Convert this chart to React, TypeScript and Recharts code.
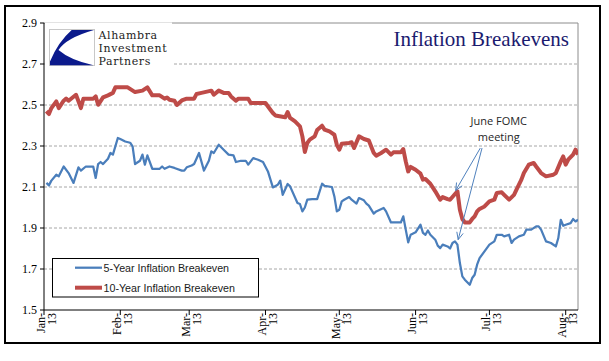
import React from "react";
import { LineChart, Line, XAxis, YAxis, ReferenceLine, ReferenceDot } from "recharts";

// x = day offset from Jan 1 2013, y = breakeven rate in %
const tenYrDays = [
  1, 2, 3, 5, 6, 8, 9, 10, 13, 14, 15, 16, 20, 21, 22, 24, 26, 28, 29, 34,
  37, 40, 42, 44, 47, 49, 50, 51, 53, 54, 56, 58, 61, 62, 64, 68, 69, 71, 73, 75,
  76, 78, 79, 83, 84, 90, 92, 93, 94, 98, 99, 100, 102, 104, 105, 106, 107, 108, 110, 111,
  113, 114, 116, 118, 119, 120, 121, 124, 125, 126, 128, 130, 132, 134, 135, 137, 139, 141, 142, 145,
  146, 147, 148, 149, 151, 153, 154, 155, 157, 159, 161, 162, 164, 165, 168, 169, 170, 171, 173, 174,
  175, 176, 177, 179, 181, 183, 184, 186, 187, 189, 191, 192, 194, 195, 197, 199, 200, 202, 204, 207,
  208, 210, 211, 212, 213, 215, 216, 217,
];
const tenYrVals = [
  2.47, 2.456, 2.485, 2.518, 2.485, 2.521, 2.531, 2.521, 2.55, 2.518, 2.485, 2.531, 2.531, 2.542, 2.501, 2.537, 2.547, 2.559, 2.586, 2.586,
  2.563, 2.57, 2.586, 2.547, 2.547, 2.531, 2.537, 2.526, 2.521, 2.5, 2.522, 2.531, 2.531, 2.554, 2.559, 2.57, 2.55, 2.57, 2.559, 2.559,
  2.542, 2.521, 2.531, 2.531, 2.51, 2.51, 2.477, 2.461, 2.449, 2.44, 2.466, 2.437, 2.42, 2.396, 2.347, 2.271, 2.315, 2.331, 2.347, 2.378,
  2.399, 2.38, 2.371, 2.355, 2.306, 2.282, 2.311, 2.315, 2.318, 2.29, 2.347, 2.334, 2.327, 2.266, 2.253, 2.266, 2.282, 2.258, 2.269, 2.269,
  2.285, 2.225, 2.176, 2.198, 2.184, 2.165, 2.136, 2.139, 2.116, 2.079, 2.038, 2.051, 2.041, 2.038, 2.079, 1.989, 1.944, 1.927, 1.927, 1.944,
  1.957, 1.981, 1.993, 2.005, 2.03, 2.038, 2.071, 2.074, 2.062, 2.038, 2.062, 2.087, 2.136, 2.168, 2.209, 2.217, 2.2, 2.168, 2.152, 2.16,
  2.168, 2.225, 2.249, 2.209, 2.233, 2.258, 2.282, 2.258,
];

const fiveYrDays = [
  1, 2, 3, 5, 6, 8, 10, 12, 14, 15, 17, 20, 21, 22, 23, 24, 26, 27, 28, 30,
  31, 33, 35, 36, 37, 39, 40, 41, 42, 44, 47, 48, 49, 51, 53, 56, 57, 58, 60, 61,
  63, 65, 67, 68, 69, 71, 73, 75, 77, 78, 80, 82, 83, 85, 87, 89, 91, 93, 95, 96,
  97, 99, 100, 103, 104, 105, 106, 107, 109, 111, 113, 114, 117, 118, 119, 120, 121, 122, 124, 125,
  127, 128, 130, 131, 132, 134, 135, 138, 139, 141, 145, 146, 147, 148, 149, 151, 153, 154, 155, 156,
  157, 159, 160, 161, 162, 164, 165, 166, 167, 168, 169, 170, 171, 173, 174, 175, 176, 177, 179, 181,
  183, 184, 186, 187, 189, 190, 191, 193, 195, 196, 198, 200, 201, 202, 204, 206, 208, 209, 210, 211,
  212, 214, 215, 216, 217,
];
const fiveYrVals = [
  2.12, 2.108, 2.131, 2.16, 2.152, 2.2, 2.168, 2.12, 2.196, 2.18, 2.2, 2.2, 2.144, 2.212, 2.222, 2.212, 2.238, 2.266, 2.258, 2.339,
  2.334, 2.322, 2.316, 2.298, 2.212, 2.228, 2.258, 2.209, 2.254, 2.189, 2.189, 2.2, 2.189, 2.2, 2.193, 2.18, 2.18, 2.196, 2.205, 2.212,
  2.266, 2.18, 2.228, 2.274, 2.266, 2.306, 2.282, 2.258, 2.254, 2.222, 2.228, 2.228, 2.209, 2.241, 2.233, 2.222, 2.176, 2.098, 2.111, 2.131,
  2.062, 2.115, 2.103, 2.022, 2.017, 1.981, 2.0, 2.038, 2.041, 2.041, 2.116, 2.106, 2.1, 2.054, 1.981, 1.989, 2.03, 2.038, 2.051, 2.038,
  2.019, 2.046, 2.035, 2.019, 2.009, 1.97, 1.981, 1.998, 1.981, 1.927, 1.927, 1.957, 1.892, 1.83, 1.867, 1.879, 1.916, 1.876, 1.867, 1.888,
  1.867, 1.843, 1.814, 1.802, 1.819, 1.81, 1.8, 1.827, 1.835, 1.819, 1.729, 1.664, 1.648, 1.623, 1.656, 1.672, 1.721, 1.753, 1.786, 1.819,
  1.835, 1.867, 1.867, 1.859, 1.867, 1.827, 1.843, 1.859, 1.867, 1.892, 1.892, 1.908, 1.908, 1.892, 1.835, 1.827, 1.81, 1.851, 1.94, 1.911,
  1.916, 1.924, 1.944, 1.932, 1.94,
];

const monthTicks = [0, 31, 59, 90, 120, 151, 181, 212];
const monthNames = ["Jan", "Feb", "Mar", "Apr", "May", "Jun", "Jul", "Aug"];
const yearLabel = "13";
const yTicks = [1.5, 1.7, 1.9, 2.1, 2.3, 2.5, 2.7, 2.9];
const gridVals = [1.7, 1.9, 2.1, 2.3, 2.5, 2.7];
const logoLines = ["Alhambra", "Investment", "Partners"];

// annotation anchor points, in data units
const fomcLabelAt = { d: 184.8, v: 2.382 };
const fomcArrows = [
  { from: { d: 177.3, v: 2.29 }, to: { d: 167.3, v: 2.083 } },
  { from: { d: 178.0, v: 2.29 }, to: { d: 168.3, v: 1.843 } },
];

const toPoints = (days: number[], vals: number[]) => days.map((d, i) => ({ d, v: vals[i] }));

const SERIES = [
  { key: "five", name: "5-Year Inflation Breakeven", color: "#4A7EBB", width: 2.25, data: toPoints(fiveYrDays, fiveYrVals) },
  { key: "ten", name: "10-Year Inflation Breakeven", color: "#BE4B48", width: 4, data: toPoints(tenYrDays, tenYrVals) },
];

const SERIF = '"Liberation Serif", "Times New Roman", serif';
const SANS = '"Liberation Sans", Arial, sans-serif';

function MonthTick(props: any) {
  const { x, y, payload } = props;
  const i = monthTicks.indexOf(payload.value);
  return (
    <g transform={`translate(${x},${y})`}>
      <text transform="rotate(-90)" textAnchor="end" fontFamily={SERIF} fontSize={12} fill="#000">
        <tspan x={2} y={0.5}>{monthNames[i]}-</tspan>
        <tspan x={2} y={11.5}>{yearLabel}</tspan>
      </text>
    </g>
  );
}

function Arrow(props: any) {
  const { x1, y1, x2, y2 } = props;
  const ang = Math.atan2(y2 - y1, x2 - x1);
  const len = 8;
  const a1 = ang + Math.PI - 0.42;
  const a2 = ang + Math.PI + 0.42;
  return (
    <g stroke="#4F81BD" strokeWidth={1} fill="none">
      <line x1={x1} y1={y1} x2={x2} y2={y2} />
      <polyline
        points={`${x2 + len * Math.cos(a1)},${y2 + len * Math.sin(a1)} ${x2},${y2} ${x2 + len * Math.cos(a2)},${y2 + len * Math.sin(a2)}`}
      />
    </g>
  );
}

function FomcLabel(props: any) {
  const { cx, cy } = props;
  return (
    <text textAnchor="middle" fontFamily='"Open Sans", sans-serif' fontSize={11} fill="#262626">
      <tspan x={cx} y={cy - 4}>June FOMC</tspan>
      <tspan x={cx} y={cy + 12}>meeting</tspan>
    </text>
  );
}

export default function App() {
  return (
    <div style={{ position: "absolute", left: 0, top: 0, width: 609, height: 361, background: "#fff" }}>
      <LineChart width={609} height={361} margin={{ top: 23, right: 31, bottom: 10, left: 4 }}>
        {gridVals.map((g) => (
          <ReferenceLine key={g} y={g} stroke="#A6A6A6" strokeDasharray="3 2" strokeWidth={1} />
        ))}
        <ReferenceLine y={2.9} stroke="#8C8C8C" strokeWidth={1} />
        <ReferenceLine x={217} stroke="#8C8C8C" strokeWidth={1} />
        <XAxis
          type="number"
          dataKey="d"
          domain={[0, 217]}
          ticks={monthTicks}
          interval={0}
          height={41}
          tickSize={5}
          tickMargin={0}
          tick={<MonthTick />}
          axisLine={{ stroke: "#000" }}
          tickLine={{ stroke: "#000" }}
          allowDataOverflow
        />
        <YAxis
          type="number"
          domain={[1.5, 2.9]}
          ticks={yTicks}
          interval={0}
          width={40}
          tickSize={4}
          tickMargin={3}
          tickFormatter={(v: number) => v.toFixed(1)}
          tick={{ fill: "#000", fontSize: 12, fontFamily: SERIF }}
          axisLine={{ stroke: "#000" }}
          tickLine={{ stroke: "#000" }}
          allowDataOverflow
        />
        {[...SERIES].reverse().map((s) => (
          <Line
            key={s.key}
            data={s.data}
            dataKey="v"
            name={s.name}
            type="linear"
            stroke={s.color}
            strokeWidth={s.width}
            strokeLinejoin="round"
            dot={false}
            activeDot={false}
            isAnimationActive={false}
          />
        ))}
        {fomcArrows.map((a, i) => (
          <ReferenceLine
            key={i}
            segment={[
              { x: a.from.d, y: a.from.v },
              { x: a.to.d, y: a.to.v },
            ]}
            shape={(p: any) => <Arrow {...p} />}
          />
        ))}
        <ReferenceDot x={fomcLabelAt.d} y={fomcLabelAt.v} r={0} shape={(p: any) => <FomcLabel {...p} />} />
      </LineChart>

      <svg width={609} height={361} style={{ position: "absolute", left: 0, top: 0, pointerEvents: "none" }}>
        {/* logo block */}
        <rect x={45} y={22.5} width={127} height={45.5} fill="#fff" />
        <rect x={49.5} y={29.5} width={45} height={36} fill="#fff" stroke="#C8C8C8" strokeWidth={1} />
        <path d="M71.7,30 L94,30 Q66,38 58.5,50 Q70,60 93.5,65.3 L50,65.3 L50,61.5 Q58,42 71.7,30 Z" fill="#0B1A8C" />
        {logoLines.map((t, i) => (
          <text key={t} x={98.5} y={39 + 13 * i} fontFamily='"DejaVu Serif", serif' fontSize={11} letterSpacing={0.6} fill="#222">
            {t}
          </text>
        ))}

        {/* title */}
        <text x={569} y={45.5} textAnchor="end" fontFamily={SERIF} fontSize={21} fill="#1B1B6F">
          Inflation Breakevens
        </text>

        {/* legend */}
        <rect x={52.5} y={258.5} width={206} height={38.5} fill="#fff" stroke="#000" strokeWidth={1} />
        {SERIES.map((s, i) => (
          <g key={s.key}>
            <line x1={75} x2={102} y1={267.7 + 20 * i} y2={267.7 + 20 * i} stroke={s.color} strokeWidth={s.width} />
            <text x={103.5} y={271.5 + 20 * i} fontFamily={SANS} fontSize={10.7} fill="#1a1a1a">
              {s.name}
            </text>
          </g>
        ))}
      </svg>

      <div
        style={{
          position: "absolute",
          left: 4,
          top: 5,
          width: 597,
          height: 339,
          border: "2px solid #000",
          boxSizing: "border-box",
          pointerEvents: "none",
        }}
      />
    </div>
  );
}
